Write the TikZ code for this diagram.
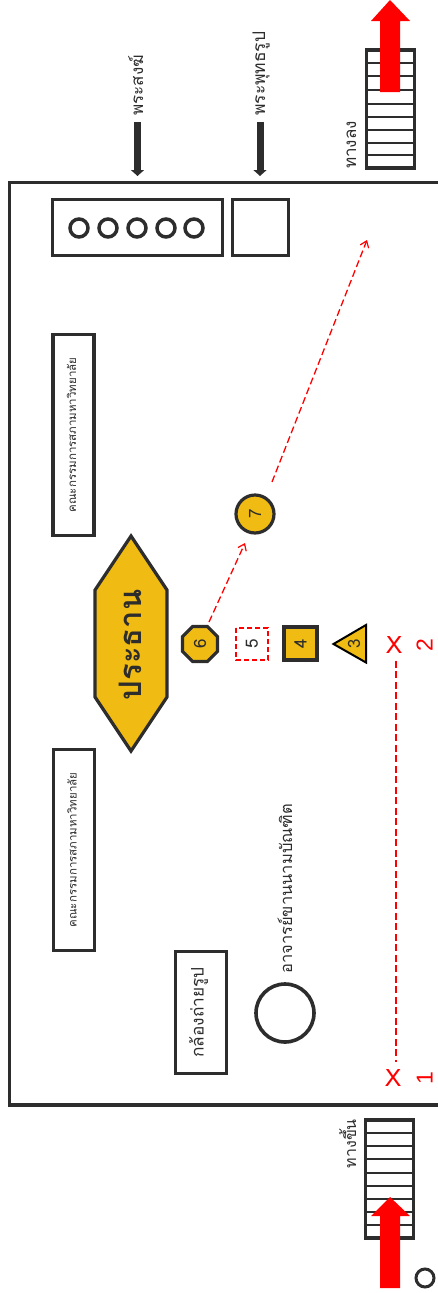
\documentclass[tikz,border=0pt]{standalone}
\usepackage{fontspec}
\usetikzlibrary{arrows.meta,shapes.geometric,shadows}
\newfontfamily\thaifont[Script=Thai]{Loma}
\newfontfamily\markfont{Liberation Sans}
\definecolor{inkgray}{HTML}{2D2D2D}
\definecolor{seatgold}{HTML}{F0BB12}
\tikzset{
  label/.style={rotate=90,anchor=base,inner sep=0pt,text=inkgray,font=\thaifont\fontsize{#1}{#1}\selectfont},
  boxed/.style={rotate=90,draw=inkgray,line width=3.2pt,inner sep=0pt,text=inkgray,text height=6pt,text depth=1pt},
  seat/.style={draw=inkgray,fill=seatgold,line width=3.2pt,drop shadow={shadow xshift=.6pt,shadow yshift=-.6pt,opacity=.25}},
  rung/.style={draw=inkgray,line width=1.2pt},
  route/.style={draw=red,line width=1.3pt,dash pattern=on 7pt off 3.5pt},
  upward/.style={line width=7pt,draw=inkgray,-{Triangle[length=6pt,width=13pt]},shorten <=3pt},
  digit/.style={rotate=90,inner sep=0pt,text=inkgray,font=\thaifont\fontsize{17}{17}\selectfont},
  redmark/.style={text=red,font=\thaifont\fontsize{24}{24}\selectfont,inner sep=0pt},
}
\begin{document}
\begin{tikzpicture}[x=1pt,y=-1pt]
\useasboundingbox (0,0) rectangle (438,1293);
% Room
\draw[draw=inkgray,line width=3.5pt] (438,182.5) -- (9.5,182.5) -- (9.5,1105) -- (438,1105);
% Stairs
\node[boxed,line width=3.5pt,minimum width=118pt,minimum height=48pt] (stairsdown) at (390.5,109) {};
\foreach \y in {63,76,90,104,117,130,143,155} \draw[rung] (365,\y) -- (416,\y);
\node[label=17,anchor=base west] (downlabel) at (356,169) {ทางลง};
\node[boxed,line width=3.5pt,minimum width=118pt,minimum height=48pt] (stairsup) at (389.5,1179) {};
\foreach \y in {1133,1146,1159,1173,1186,1199,1212,1225} \draw[rung] (364,\y) -- (415,\y);
\node[label=16,anchor=base west] (uplabel) at (356,1168.5) {ทางขึ้น};
% Red arrows
\fill[red] (380,92) -- (380,21) -- (371,21) -- (390,0) -- (410,21) -- (400,21) -- (400,92) -- cycle;
\fill[red] (380,1288) -- (380,1216) -- (371,1216) -- (390,1197) -- (410,1216) -- (400,1216) -- (400,1288) -- cycle;
\node[circle,draw=inkgray,line width=3pt,minimum size=18pt,inner sep=0pt] (start) at (425,1278) {};
% Monks and Buddha image
\node[boxed,minimum width=56pt,minimum height=170pt] (monkbox) at (137.5,227.5) {};
\foreach \x in {79,108,137,166,194}
  \draw[inkgray,line width=3.5pt] (\x,228) circle[radius=9pt];
\node[boxed,minimum width=56pt,minimum height=56pt] (buddhabox) at (260.5,227.5) {};
\node[label=17,anchor=base west] (monklabel) at (143,116) {พระสงฆ์};
\node[label=17.4,anchor=base west] (buddhalabel) at (265,116) {พระพุทธรูป};
\coordinate (monktip) at (137.5,176);
\coordinate (buddhatip) at (260,176);
\draw[upward] ([xshift=-5.5pt,yshift=-3pt]monklabel.base west) -- (monktip);
\draw[upward] ([xshift=-5pt,yshift=-3pt]buddhalabel.base west) -- (buddhatip);
% Committee
\node[boxed,minimum width=201pt,minimum height=41pt,font=\thaifont\fontsize{11.5}{11.5}\selectfont] (councilA) at (73.5,435) {คณะกรรมการสภามหาวิทยาลัย};
\node[boxed,minimum width=201pt,minimum height=41pt,font=\thaifont\fontsize{11.5}{11.5}\selectfont] (councilB) at (74,850) {คณะกรรมการสภามหาวิทยาลัย};
% Chairman
\draw[seat] (131,536) -- (167,590) -- (167,697) -- (131,751) -- (95,697) -- (95,590) -- cycle;
\node[label=31,font=\thaifont\bfseries\fontsize{31}{31}\selectfont] (chair) at (141,645) {ประธาน};
% Seats
\node[seat,digit,regular polygon,regular polygon sides=8,minimum size=38pt] (n6) at (200,644) {6};
\node[digit,draw=red,line width=1.5pt,dash pattern=on 5pt off 3pt,minimum size=32pt] (n5) at (252,644) {5};
\node[seat,digit,minimum size=33pt] (n4) at (300.5,643.5) {4};
\draw[seat,draw=black,line width=2pt] (333.5,644) -- (366,625) -- (366,662.5) -- cycle;
\node[digit] (n3) at (354,644) {3};
\node[seat,circle,digit,minimum size=38pt] (n7) at (255,514) {7};
% Marks
\node[redmark] (x2) at (394,645) {X};
\node[redmark] (x1) at (393,1078) {X};
\node[redmark,rotate=90,anchor=base,font=\markfont\fontsize{23}{23}\selectfont] (num2) at (432.5,645) {2};
\node[redmark,rotate=90,anchor=base,font=\markfont\fontsize{23}{23}\selectfont] (num1) at (432.5,1078) {1};
% Routes
\coordinate (goal) at (367,240);
\draw[route] ([xshift=2pt,yshift=-7pt]x2.south) -- ([xshift=3pt,yshift=7pt]x1.north);
\draw[route,-{Straight Barb[length=6pt,width=9pt,line width=1.2pt]}] ([shift={(9,-22)}]n6.center) -- ([shift={(-10,29)}]n7.center);
\draw[route,-{Straight Barb[length=6pt,width=9pt,line width=1.2pt]}] ([shift={(17,-32)}]n7.center) -- (goal);
% Camera and graduate caller
\node[boxed,minimum width=122pt,minimum height=51pt,font=\thaifont\fontsize{17.3}{17.3}\selectfont] (camera) at (201,1012.5) {กล้องถ่ายรูป};
\node[circle,draw=inkgray,line width=3.6pt,minimum size=58pt,inner sep=0pt] (caller) at (285,1013) {};
\node[label=16.5,anchor=base west] (callerlabel) at (292,974) {อาจารย์ขานนามบัณฑิต};
\end{tikzpicture}
\end{document}
